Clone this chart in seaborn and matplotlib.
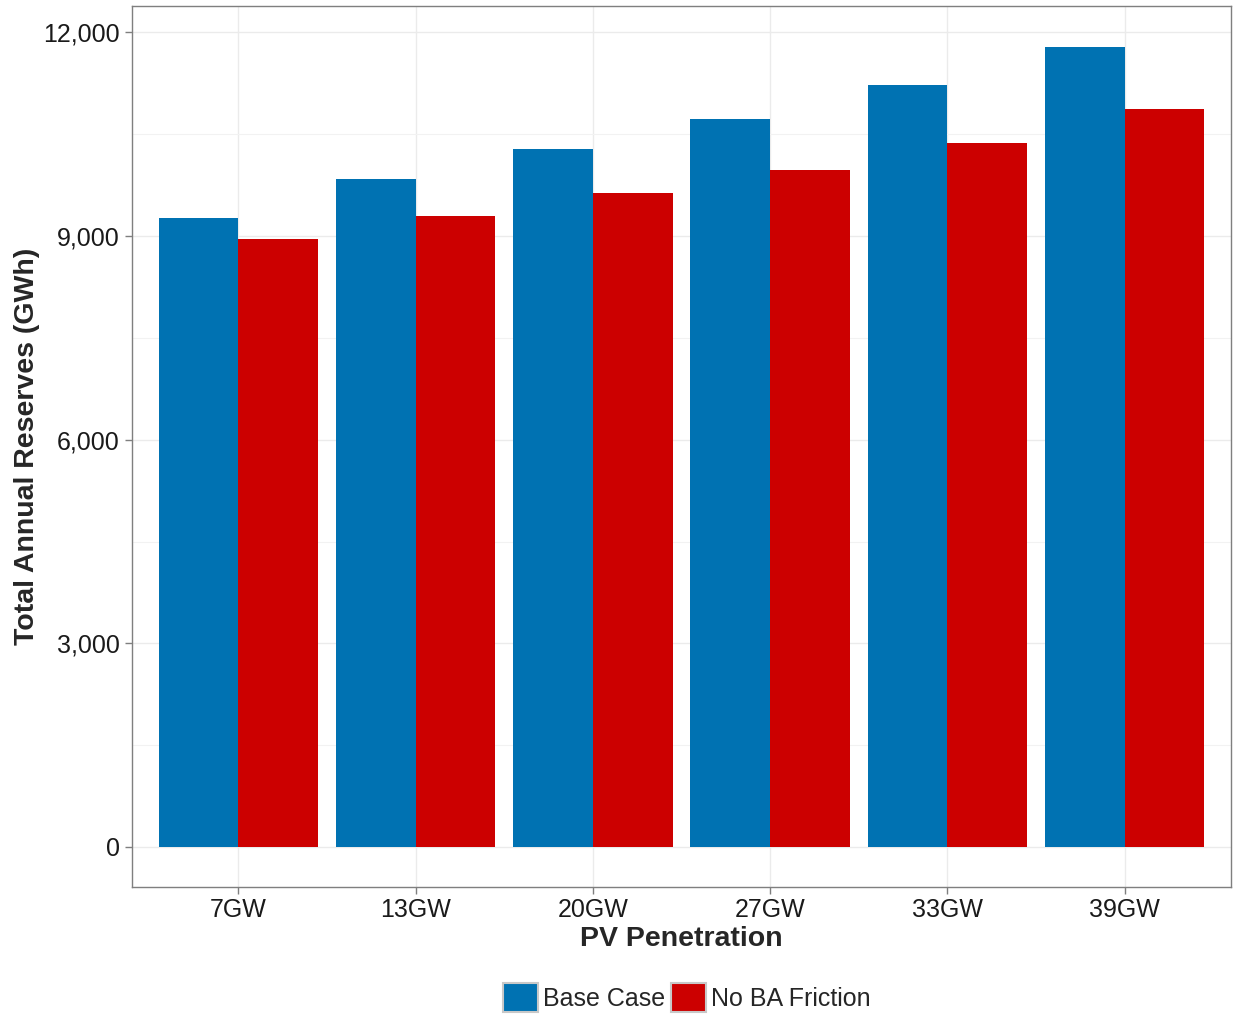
import matplotlib
matplotlib.use("Agg")
import matplotlib.pyplot as plt
import seaborn as sns
import pandas as pd
from matplotlib.patches import Patch
from matplotlib.ticker import FuncFormatter, MultipleLocator

penetration = ["7GW", "13GW", "20GW", "27GW", "33GW", "39GW"]
base_case = [9260, 9840, 10290, 10730, 11230, 11790]
no_ba_friction = [8950, 9290, 9640, 9980, 10370, 10870]
scenarios = ["Base Case", "No BA Friction"]
colors = ["#0072B2", "#CC0000"]

df = pd.DataFrame({
    "PV Penetration": penetration * 2,
    "Reserves": base_case + no_ba_friction,
    "Scenario": [scenarios[0]] * len(penetration) + [scenarios[1]] * len(penetration),
})

sns.set_theme(style="white")
plt.rcParams["font.family"] = ["Liberation Sans", "DejaVu Sans"]

fig = plt.figure(figsize=(12.33, 10.15), dpi=100)
ax = fig.add_axes([0.1071, 0.1261, 0.8913, 0.868])

sns.barplot(data=df, x="PV Penetration", y="Reserves", hue="Scenario",
            order=penetration, hue_order=scenarios, palette=colors,
            width=0.9, gap=0, saturation=1, linewidth=0, ax=ax, legend=False)

ax.set_xlim(-0.6, 5.6)
ax.set_ylim(-590, 12390)
ax.yaxis.set_major_locator(MultipleLocator(3000))
ax.yaxis.set_minor_locator(MultipleLocator(1500))
ax.yaxis.set_major_formatter(FuncFormatter(lambda v, p: f"{int(v):,}"))

ax.grid(True, which="major", color="#ebebeb", linewidth=1.0)
ax.grid(True, which="minor", axis="y", color="#f2f2f2", linewidth=0.8)
ax.set_axisbelow(True)

for s in ax.spines.values():
    s.set_color("#7f7f7f")
    s.set_linewidth(1.0)

ax.tick_params(axis="both", which="major", length=5, width=1, color="#7f7f7f",
               labelsize=18, labelcolor="#1a1a1a", direction="out", pad=4)
ax.tick_params(axis="both", which="minor", length=0)
ax.tick_params(axis="x", bottom=True, pad=3)
ax.tick_params(axis="y", left=True)

ax.set_xlabel("PV Penetration", fontsize=20.5, fontweight="bold", labelpad=3)
ax.set_ylabel("Total Annual Reserves (GWh)", fontsize=20.5, fontweight="bold", labelpad=2)

handles = [Patch(facecolor=c, edgecolor="#c8c8c8", linewidth=1.5) for c in colors]
fig.legend(handles, scenarios, loc="lower center", bbox_to_anchor=(0.557, -0.007),
           ncol=2, frameon=False, fontsize=18, handlelength=1.4, handleheight=1.4,
           handletextpad=0.2, columnspacing=0.2, borderaxespad=0.0)

fig.savefig("out.png", dpi=100)
